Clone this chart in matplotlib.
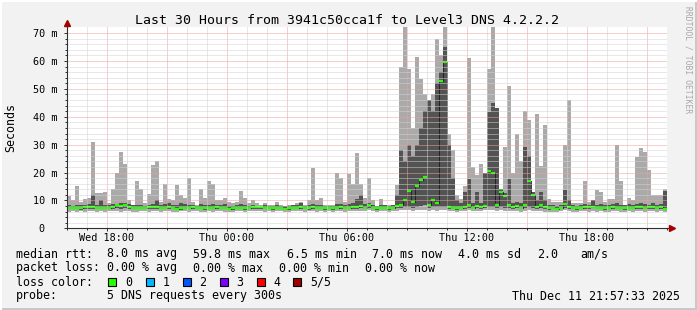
import numpy as np
import matplotlib
matplotlib.use('Agg')
import matplotlib.pyplot as plt
from matplotlib.patches import Rectangle

# 5 DNS pings per 12-minute bucket, sorted: min, 2nd, median, 4th, max (ms)
# bucket 0 starts Wed 16:00, 150 buckets = 30 hours
ping_max = [
    11.5, 10, 15, 9.5, 10.5, 11, 31, 12.5, 12.5, 13, 9, 14, 20, 27.4, 23, 10, 8.5, 17, 14, 9, 12.4, 22.6, 24, 9.6, 16,
    10.5, 10, 15.5, 12, 11, 18, 9.5, 8.5, 14, 11, 17, 16, 10, 10, 11, 9.5, 9, 9.5, 13.5, 11, 9, 10, 9, 8.5, 9,
    8.5, 8.5, 9.5, 8.5, 8, 8.5, 8.5, 9, 9.5, 8.5, 10, 21.6, 10, 11, 8.5, 8.5, 8.5, 20, 18, 9.5, 19.5, 16, 27, 16, 11,
    18, 10, 8, 10.5, 8.5, 8.5, 8.5, 15.5, 58, 75, 57, 36, 61.5, 53.5, 48, 36, 48, 68, 62, 75, 34, 28, 12, 10.5, 15,
    61, 22, 19, 23, 16.6, 57, 75, 30, 12, 29, 51, 20, 34, 24, 42, 39, 13, 41, 22.5, 37, 10.5, 9.5, 9.5, 9.5, 30,
    46, 9, 9, 9, 17, 9.5, 10, 13.6, 13, 9.5, 10.5, 10.5, 30, 17, 8.5, 11, 10, 25.6, 28.7, 27.4, 20.8, 12, 12, 12, 14,
]
ping_hi = [
    8.2, 8.0, 8.4, 8.2, 8.3, 8.6, 12, 8.4, 10, 8.5, 8.2, 8.6, 8.8, 9.0, 9.0, 8.6, 8.2, 8.4, 8.3, 8.1, 8.4, 8.8, 10, 8.2, 8.6,
    9.0, 8.4, 8.3, 9.0, 8.8, 8.4, 8.2, 8.1, 8.6, 8.4, 8.3, 8.6, 8.4, 8.3, 8.8, 8.1, 8.0, 8.2, 8.6, 8.4, 8.1, 8.2, 8.0, 8.1, 8.2,
    8.1, 8.0, 8.3, 8.1, 8.0, 8.1, 8.2, 8.4, 9.0, 8.1, 8.4, 8.6, 8.4, 8.2, 8.0, 8.1, 8.0, 8.6, 8.8, 8.2, 8.8, 9.2, 10.5, 11.8, 8.6,
    9.0, 8.4, 8.0, 8.3, 8.2, 8.1, 8.3, 12, 28, 24, 30, 26, 30, 36, 42, 46, 42, 52, 56, 65, 30, 18, 10, 9, 13,
    17.8, 9, 13, 9, 20, 41.6, 45, 43, 14, 12.5, 17.8, 9, 9.5, 9, 29, 26, 13, 10, 13, 10, 8.4, 8.2, 8.1, 8.3, 13.6,
    10, 8.2, 8.1, 8.3, 8.6, 8.2, 10, 8.4, 8.6, 8.2, 8.3, 8.6, 9.0, 8.4, 8.2, 8.6, 8.4, 8.8, 9.0, 8.6, 8.4, 9.0, 8.3, 8.6, 13.5,
]
ping_med = [
    7.2, 7.4, 7.3, 7.2, 7.5, 7.6, 7.8, 7.4, 7.3, 7.2, 7.3, 7.8, 8.3, 8.0, 8.3, 7.8, 7.4, 7.3, 7.4, 7.2, 7.5, 7.8, 7.6, 7.3, 7.4,
    7.6, 7.3, 6.8, 7.2, 7.4, 7.3, 7.5, 7.4, 7.3, 7.2, 7.3, 7.4, 7.5, 7.4, 7.3, 6.8, 7.2, 7.3, 7.4, 7.2, 7.3, 7.6, 7.8, 7.5, 7.4,
    7.3, 7.2, 7.4, 7.3, 7.1, 7.2, 7.3, 7.4, 7.6, 7.3, 7.2, 7.5, 7.4, 7.3, 7.2, 7.3, 7.2, 7.4, 7.5, 7.3, 7.4, 7.6, 7.8, 8.0, 7.4,
    8.3, 7.3, 7.2, 7.4, 7.3, 7.2, 7.4, 8.0, 8.5, 10, 13.5, 9.5, 15, 17.5, 18.5, 8.5, 10, 9, 53, 59.8, 7.6, 7.4, 7.2, 7.3, 7.5,
    8.5, 7.4, 8.0, 7.5, 8.0, 20.5, 20, 8.5, 13, 11.6, 8.5, 7.6, 8.0, 7.4, 8.5, 16.8, 12, 7.8, 8.2, 7.6, 7.2, 7.3, 7.1, 7.4, 8.8,
    7.8, 7.3, 7.2, 7.3, 7.5, 7.6, 7.8, 7.3, 7.4, 7.2, 7.3, 7.5, 7.4, 7.3, 7.2, 7.4, 7.3, 7.5, 7.6, 7.4, 7.8, 7.6, 7.4, 7.5, 7.0,
]
ping_lo = [
    6.8, 6.9, 6.8, 6.7, 6.9, 7.0, 7.0, 6.9, 6.8, 6.8, 6.9, 7.0, 7.2, 7.1, 7.2, 7.0, 6.9, 6.8, 6.9, 6.8, 6.9, 7.0, 7.0, 6.8, 6.9,
    7.0, 6.8, 6.5, 6.7, 6.9, 6.8, 6.9, 6.9, 6.8, 6.7, 6.8, 6.9, 7.0, 6.9, 6.8, 6.5, 6.7, 6.8, 6.9, 6.7, 6.8, 7.0, 7.1, 7.0, 6.9,
    6.8, 6.7, 6.9, 6.8, 6.6, 6.7, 6.8, 6.9, 7.0, 6.8, 6.7, 7.0, 6.9, 6.8, 6.7, 6.8, 6.7, 6.9, 7.0, 6.8, 6.9, 7.0, 7.1, 7.2, 6.9,
    7.4, 6.8, 6.7, 6.9, 6.8, 6.7, 6.9, 7.2, 7.4, 7.6, 7.8, 7.4, 7.8, 8.0, 8.2, 7.4, 7.6, 7.5, 7.6, 7.8, 7.0, 6.9, 6.7, 6.8, 7.0,
    7.4, 6.9, 7.2, 7.0, 7.2, 7.6, 7.8, 7.4, 7.6, 7.4, 7.2, 7.0, 7.2, 6.9, 7.3, 7.6, 7.4, 7.1, 7.3, 7.0, 6.7, 6.8, 6.6, 6.9, 7.4,
    7.1, 6.8, 6.7, 6.8, 7.0, 7.0, 7.2, 6.8, 6.9, 6.7, 6.8, 7.0, 6.9, 6.8, 6.7, 6.9, 6.8, 7.0, 7.0, 6.9, 7.1, 7.0, 6.9, 7.0, 6.6,
]
ping_min = [
    6.0, 6.2, 5.9, 6.1, 6.0, 6.3, 6.1, 5.9, 6.2, 6.0, 6.1, 6.2, 6.3, 6.0, 6.2, 6.1, 6.0, 5.9, 6.1, 6.2, 6.0, 6.1, 6.3, 6.0, 6.1,
    6.2, 6.0, 5.9, 6.1, 6.2, 6.0, 6.1, 6.2, 6.0, 5.9, 6.1, 6.0, 6.2, 6.1, 6.0, 5.8, 6.0, 6.1, 6.2, 6.0, 6.1, 6.3, 6.2, 6.1, 6.0,
    6.1, 6.0, 6.2, 6.1, 5.9, 6.0, 6.1, 6.2, 6.3, 6.0, 6.1, 6.2, 6.0, 6.1, 6.0, 6.2, 6.0, 6.1, 6.2, 6.0, 6.1, 6.2, 6.3, 6.2, 6.1,
    6.4, 6.1, 6.0, 6.2, 6.1, 6.0, 6.2, 6.3, 6.4, 6.5, 6.6, 6.3, 6.5, 6.6, 6.4, 6.2, 6.5, 6.3, 6.6, 6.5, 6.2, 6.1, 6.0, 6.1, 6.3,
    6.4, 6.1, 6.3, 6.2, 6.4, 6.6, 6.5, 6.3, 6.5, 6.2, 6.3, 6.1, 6.2, 6.0, 6.3, 6.4, 6.2, 6.1, 6.2, 6.0, 5.9, 6.0, 5.8, 6.1, 6.4,
    6.2, 6.0, 5.9, 6.1, 6.2, 6.0, 6.3, 6.0, 6.1, 5.9, 6.0, 6.2, 6.1, 6.0, 5.9, 6.1, 6.0, 6.2, 6.1, 6.0, 6.3, 6.1, 6.0, 6.2, 5.9,
]

xtick_hours = [2, 8, 14, 20, 26]
xtick_labels = ['Wed 18:00', 'Thu 00:00', 'Thu 06:00', 'Thu 12:00', 'Thu 18:00']
ytick_vals = [0, 10, 20, 30, 40, 50, 60, 70]
ytick_labels = ['0  ', '10 m', '20 m', '30 m', '40 m', '50 m', '60 m', '70 m']

loss_labels = ['0', '1', '2', '3', '4', '5/5']
loss_colors = ['#26ff00', '#00b8ff', '#0059ff', '#7e00ff', '#ff0000', '#a10000']

title = 'Last 30 Hours from 3941c50cca1f to Level3 DNS 4.2.2.2'
stamp = 'Thu Dec 11 21:57:33 2025'

W, H = 697, 310
MONO = 'DejaVu Sans Mono'
BG = '#f2f2f2'

fig = plt.figure(figsize=(W / 100, H / 100), dpi=100, facecolor=BG)


def px(x, y):
    # pixel position (from top-left) -> figure fraction
    return x / W, 1 - y / H


ax = fig.add_axes([67 / W, 1 - 228.3 / H, 600 / W, 201 / H])
ax.set_facecolor('white')

pmax = np.array(ping_max)
phi = np.array(ping_hi)
pmed = np.array(ping_med)
plo = np.array(ping_lo)
pmin = np.array(ping_min)
step = 0.2
t = np.arange(len(pmax)) * step

# smoke: continuous band up to the 4th ping, slightly narrower spikes up to the max
ax.bar(t, phi - pmin, bottom=pmin, width=step, align='edge', color='#aaaaaa', lw=0, zorder=2)
ax.bar(t + step / 2, pmax - phi, bottom=phi, width=step * 0.85, align='center', color='#aaaaaa', lw=0, zorder=2)
ax.bar(t + step / 2, phi - plo, bottom=plo, width=step * 0.9, align='center', color='#535353', lw=0, zorder=3)

# median: thin dark risers, green dashes
edges = np.append(t, t[-1] + step)
ax.step(edges, np.append(pmed, pmed[-1]), where='post', color='#1a1a1a', lw=0.6, zorder=4)
ax.hlines(pmed, t, t + step, color=loss_colors[0], lw=1.6, zorder=5)

ax.set_xlim(0, 30)
ax.set_ylim(0, 72.1)

# rrdtool style dotted grid, drawn over the data
dots = (0, (1, 1))
for h in range(1, 30):
    major = (h - 2) % 3 == 0
    ax.axvline(h, color='#f2a0a0' if major else '#d2d2d2', lw=0.72, ls=dots, zorder=6)
for v in range(2, 72, 2):
    major = v % 10 == 0
    ax.axhline(v, color='#f2a0a0' if major else '#d2d2d2', lw=0.72, ls=dots, zorder=6)

for s in ['top', 'right']:
    ax.spines[s].set_visible(False)
for s in ['left', 'bottom']:
    ax.spines[s].set_color('#303030')
    ax.spines[s].set_linewidth(0.8)
    ax.spines[s].set_zorder(7)

# axis arrows
ax.plot([30, 30.25], [0, 0], color='#303030', lw=0.8, clip_on=False, zorder=7)
ax.plot([30.25], [0], marker='>', color='#a00000', ms=4.5, clip_on=False, zorder=8)
ax.plot([0, 0], [72.1, 73.3], color='#303030', lw=0.8, clip_on=False, zorder=7)
ax.plot([0], [73.6], marker='^', color='#a00000', ms=4.5, clip_on=False, zorder=8)

ax.set_yticks(ytick_vals)
ax.set_yticklabels(ytick_labels, family=MONO, fontsize=7.3)
ax.set_yticks(range(0, 72, 2), minor=True)
ax.set_xticks(xtick_hours)
ax.set_xticklabels(xtick_labels, family=MONO, fontsize=7.3)
ax.set_xticks(range(0, 31), minor=True)
ax.tick_params(axis='y', which='major', length=2.2, width=0.7, color='#303030', pad=4.8)
ax.tick_params(axis='y', which='minor', length=1.5, width=0.7, color='#303030')
ax.tick_params(axis='x', which='major', length=2.2, width=0.7, color='#303030', pad=1.2)
ax.tick_params(axis='x', which='minor', length=1.5, width=0.7, color='#303030')

fig.text(*px(11, 127), 'Seconds', rotation=90, family=MONO, fontsize=8.4, ha='center', va='center')
fig.text(*px(347, 20), title, family=MONO, fontsize=9.5, ha='center', va='center')
fig.text(*px(688, 60), 'RRDTOOL / TOBI OETIKER', rotation=270, family=MONO, fontsize=5.8,
         color='#a8a8a8', ha='center', va='center')

# legend lines
leg = dict(family=MONO, fontsize=8.4, va='center', ha='left')
row1 = [(16, 'median rtt:'), (107.3, '8.0 ms avg'), (193.3, '59.8 ms max'), (286.7, '6.5 ms min'),
        (371.7, '7.0 ms now'), (458.3, '4.0 ms sd'), (536.7, '2.0'), (580, 'am/s')]
row2 = [(16, 'packet loss:'), (107.3, '0.00 % avg'), (193.3, '0.00 % max'), (279.3, '0.00 % min'),
        (365, '0.00 % now')]
for x, s in row1:
    fig.text(*px(x, 254), s, **leg)
for x, s in row2:
    fig.text(*px(x, 268), s, **leg)

fig.text(*px(16, 282), 'loss color:', **leg)
box_x = [108.3, 145.7, 182.7, 220, 256.7, 293.3]
for bx, lab, col in zip(box_x, loss_labels, loss_colors):
    fig.add_artist(Rectangle(px(bx, 286), 8 / W, 8 / H, transform=fig.transFigure,
                             facecolor=col, edgecolor='black', lw=0.8))
    fig.text(*px(bx + 16.7, 282), lab, **leg)

fig.text(*px(16, 296), 'probe:', **leg)
fig.text(*px(107.3, 296), '5 DNS requests every 300s', **leg)
fig.text(*px(680, 296), stamp, family=MONO, fontsize=8.4, va='center', ha='right')

# 3d frame around the image
fig.add_artist(Rectangle((0, 0), 1, 2 / H, transform=fig.transFigure, color='#c8c8c8', lw=0))
fig.add_artist(Rectangle((1 - 2 / W, 0), 2 / W, 1, transform=fig.transFigure, color='#c8c8c8', lw=0))
fig.add_artist(Rectangle((0, 1 - 2 / H), 1, 2 / H, transform=fig.transFigure, color='#ffffff', lw=0))
fig.add_artist(Rectangle((0, 0), 2 / W, 1, transform=fig.transFigure, color='#ffffff', lw=0))

fig.savefig('out.png', dpi=100, facecolor=BG)
